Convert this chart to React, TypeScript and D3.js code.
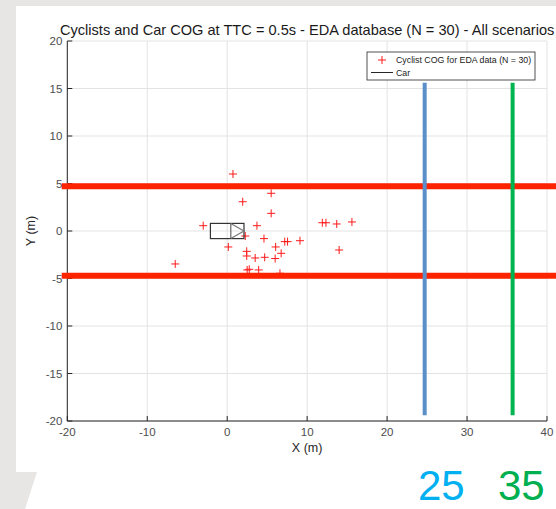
import React from "react";
import { scaleLinear, line } from "d3";

// cyclist centre of gravity at TTC = 0.5s (m)
const cyclistX = [0.72, 5.5, 1.94, 5.5, -3.0, 3.72, 2.26, 4.6, 0.14, 6.06, 7.2, 7.55, 6.75, 2.44, 2.44, 3.5, 4.69, 6.0, -6.5, 2.5, 2.76, 3.94, 6.6, 11.9, 12.35, 13.7, 15.6, 9.1, 14.0];
const cyclistY = [6.0, 3.97, 3.08, 1.86, 0.56, 0.56, -0.53, -0.8, -1.68, -1.68, -1.12, -1.12, -2.35, -2.14, -2.63, -2.84, -2.77, -2.9, -3.47, -4.1, -4.03, -4.1, -4.45, 0.87, 0.87, 0.74, 0.95, -1.02, -2.0];

const xTicks = [-20, -10, 0, 10, 20, 30, 40];
const yTicks = [-20, -15, -10, -5, 0, 5, 10, 15, 20];

// car outline
const carX = [-2.1, 2.1];
const carY = [-0.8, 0.8];
const carFront = 0.45;

// lane borders and distance markers
const laneY = [4.7, -4.7];
const laneX = [-20.7, 45];
const markerX = [24.7, 35.7];
const markerY = [15.6, -19.4];
const markerColors = ["#5a8fc8", "#00b450"];
const markerLabels = ["25", "35"];
const markerLabelColors = ["#00b0f0", "#00b050"];

const W = 556;
const H = 509;
const font = "'Liberation Sans', Arial, sans-serif";

export default function App() {
  const x = scaleLinear().domain([-20, 40]).range([67.3, 547]);
  const y = scaleLinear().domain([-20, 20]).range([421, 41]);
  const path = line<[number, number]>().x(d => x(d[0])).y(d => y(d[1]));

  return (
    <svg width={W} height={H} style={{ position: "fixed", left: 0, top: 0 }} fontFamily={font}>
      {/* slide background */}
      <rect width={W} height={H} fill="#ffffff" />
      <rect x={0} y={0} width={W} height={6} fill="#e7e6e4" />
      <rect x={0} y={0} width={16} height={472} fill="#e7e6e4" />
      <polygon points="0,472 37,472 25,509 0,509" fill="#e7e6e4" />

      {/* grid */}
      {xTicks.map(t => (
        <line key={"gx" + t} x1={x(t)} x2={x(t)} y1={y(-20)} y2={y(20)} stroke="#e3e3e3" strokeWidth={1} />
      ))}
      {yTicks.map(t => (
        <line key={"gy" + t} x1={x(-20)} x2={x(40)} y1={y(t)} y2={y(t)} stroke="#e3e3e3" strokeWidth={1} />
      ))}

      {/* axes */}
      <line x1={x(-20)} x2={x(40)} y1={y(-20)} y2={y(-20)} stroke="#262626" />
      <line x1={x(-20)} x2={x(-20)} y1={y(-20)} y2={y(20)} stroke="#262626" />
      {xTicks.map(t => (
        <g key={"xt" + t}>
          <line x1={x(t)} x2={x(t)} y1={y(-20)} y2={y(-20) - 5} stroke="#262626" />
          <text x={x(t)} y={y(-20) + 15} textAnchor="middle" fontSize={11.5} fill="#4d4d4d">{t}</text>
        </g>
      ))}
      {yTicks.map(t => (
        <g key={"yt" + t}>
          <line x1={x(-20)} x2={x(-20) + 5} y1={y(t)} y2={y(t)} stroke="#262626" />
          <text x={x(-20) - 5} y={y(t) + 4} textAnchor="end" fontSize={11.5} fill="#4d4d4d">{t}</text>
        </g>
      ))}
      <text x={(x(-20) + x(40)) / 2} y={452} textAnchor="middle" fontSize={12.5} fill="#262626">X (m)</text>
      <text transform={`translate(35,${y(0)}) rotate(-90)`} textAnchor="middle" fontSize={12.5} fill="#262626">Y (m)</text>
      <text x={(x(-20) + x(40)) / 2} y={35} textAnchor="middle" fontSize={14.6} fill="#1a1a1a">
        Cyclists and Car COG at TTC = 0.5s - EDA database (N = 30) - All scenarios
      </text>

      {/* cyclists */}
      {cyclistX.map((cx, i) => (
        <g key={"c" + i} stroke="#ff1a1a" strokeWidth={1}>
          <line x1={x(cx) - 4} x2={x(cx) + 4} y1={y(cyclistY[i])} y2={y(cyclistY[i])} />
          <line x1={x(cx)} x2={x(cx)} y1={y(cyclistY[i]) - 4} y2={y(cyclistY[i]) + 4} />
        </g>
      ))}

      {/* car */}
      <rect x={x(carX[0])} y={y(carY[1])} width={x(carX[1]) - x(carX[0])} height={y(carY[0]) - y(carY[1])} fill="none" stroke="#333" strokeWidth={1.2} />
      <path d={path([[carFront, carY[1]], [carX[1], 0], [carFront, carY[0]]]) || ""} fill="none" stroke="#777" strokeWidth={1.2} />
      <line x1={x(carFront)} x2={x(carFront)} y1={y(carY[1])} y2={y(carY[0])} stroke="#666" strokeWidth={1.2} />

      {/* lane borders */}
      {laneY.map(ly => (
        <path key={"l" + ly} d={path([[laneX[0], ly], [laneX[1], ly]]) || ""} stroke="#ff2400" strokeWidth={6} fill="none" />
      ))}

      {/* distance markers */}
      {markerX.map((mx, i) => (
        <path key={"m" + i} d={path([[mx, markerY[0]], [mx, markerY[1]]]) || ""} stroke={markerColors[i]} strokeWidth={4} fill="none" />
      ))}

      {/* legend */}
      <rect x={367} y={52} width={168} height={28} fill="#fff" stroke="#262626" strokeWidth={0.8} />
      <g stroke="#ff1a1a">
        <line x1={378} x2={386} y1={60} y2={60} />
        <line x1={382} x2={382} y1={56} y2={64} />
      </g>
      <text x={396} y={63} fontSize={8.8} fill="#1a1a1a">Cyclist COG for EDA data (N = 30)</text>
      <line x1={371} x2={393} y1={72.5} y2={72.5} stroke="#262626" />
      <text x={396} y={76} fontSize={8.8} fill="#1a1a1a">Car</text>

      {/* labels under the chart */}
      {markerLabels.map((lbl, i) => (
        <text key={"ml" + i} x={i === 0 ? 418 : 498} y={500} fontSize={42} fill={markerLabelColors[i]}>{lbl}</text>
      ))}
    </svg>
  );
}
